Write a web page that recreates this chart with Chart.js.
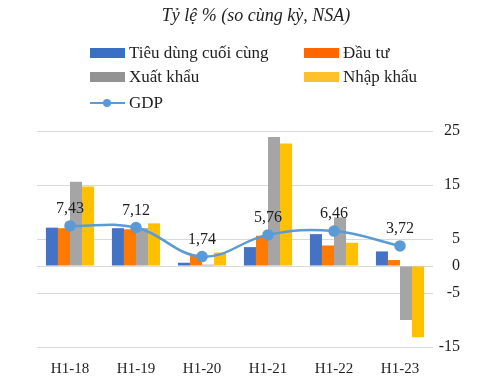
<!DOCTYPE html>
<html>
<head>
<meta charset="utf-8">
<script src="https://cdn.jsdelivr.net/npm/chart.js@4/dist/chart.umd.min.js"></script>
<style>
  body { margin: 0; background: #fff; }
  #wrap { position: relative; width: 479px; height: 381px; overflow: hidden; font-family: "Liberation Serif", serif; color: #1e1e1e; }
  #chart { position: absolute; left: 0; top: 0; }
  #title { position: absolute; left: 0; width: 512px; top: 5px; text-align: center; font-style: italic; font-size: 18px; }
  .lg { position: absolute; font-size: 17px; line-height: 20px; white-space: nowrap; }
  .sw { display: inline-block; width: 35px; height: 10px; vertical-align: middle; margin-right: 4px; position: relative; top: -1px; }
  .ln { display: inline-block; width: 35px; height: 10px; vertical-align: middle; margin-right: 4px; position: relative; top: -1px; }
  .ln::before { content: ""; position: absolute; left: 0; right: 0; top: 4px; height: 2px; background: #5b9bd5; }
  .ln::after { content: ""; position: absolute; left: 13px; top: 1px; width: 8px; height: 8px; border-radius: 50%; background: #5b9bd5; }
</style>
</head>
<body>
<div id="wrap">
  <canvas id="chart" width="479" height="381"></canvas>
  <div id="title">Tỷ lệ % (so cùng kỳ, NSA)</div>
  <div class="lg" style="left:90px; top:43px;"><span class="sw" style="background:#3a6fc4"></span>Tiêu dùng cuối cùng</div>
  <div class="lg" style="left:304px; top:43px;"><span class="sw" style="background:#ff6600"></span>Đầu tư</div>
  <div class="lg" style="left:90px; top:67px;"><span class="sw" style="background:#939393"></span>Xuất khẩu</div>
  <div class="lg" style="left:304px; top:67px;"><span class="sw" style="background:#ffc12b"></span>Nhập khẩu</div>
  <div class="lg" style="left:90px; top:93px;"><span class="ln"></span>GDP</div>
</div>
<script>
const categories = ['H1-18', 'H1-19', 'H1-20', 'H1-21', 'H1-22', 'H1-23'];
const consumption = [7.1, 7.0, 0.6, 3.5, 5.9, 2.7];
const investment = [7.0, 6.8, 1.85, 5.6, 3.8, 1.1];
const exports = [15.6, 7.0, 0.25, 23.9, 9.0, -10.0];
const imports = [14.7, 7.9, 2.5, 22.7, 4.3, -13.2];
const gdp = [7.43, 7.12, 1.74, 5.76, 6.46, 3.72];
const yTicks = [-15, -5, 0, 5, 15, 25];

const fmt = (v) => v.toFixed(2).replace('.', ',');

// value labels above the GDP points
const gdpLabels = {
  id: 'gdpLabels',
  afterDatasetsDraw(chart) {
    const meta = chart.getDatasetMeta(4);
    const ctx = chart.ctx;
    ctx.save();
    ctx.font = '16px "Liberation Serif", serif';
    ctx.fillStyle = '#1e1e1e';
    ctx.textAlign = 'center';
    ctx.textBaseline = 'middle';
    meta.data.forEach((pt, i) => {
      ctx.fillText(fmt(gdp[i]), pt.x, pt.y - 17);
    });
    ctx.restore();
  },
};

const bar = (label, data, color) => ({
  type: 'bar',
  label,
  data,
  backgroundColor: color,
  order: 1,
  barPercentage: 1,
  categoryPercentage: 0.73,
});

new Chart(document.getElementById('chart'), {
  data: {
    labels: categories,
    datasets: [
      bar('Tiêu dùng cuối cùng', consumption, '#4472c4'),
      bar('Đầu tư', investment, '#ff7a00'),
      bar('Xuất khẩu', exports, '#a5a5a5'),
      bar('Nhập khẩu', imports, '#ffc000'),
      {
        type: 'line',
        label: 'GDP',
        data: gdp,
        borderColor: '#5b9bd5',
        backgroundColor: '#5b9bd5',
        borderWidth: 2.5,
        pointRadius: 4.5,
        tension: 0.4,
        order: 0,
      },
    ],
  },
  options: {
    responsive: false,
    animation: false,
    layout: { padding: { left: 37, top: 131, right: 19, bottom: 0 } },
    plugins: {
      legend: { display: false },
      tooltip: { enabled: false },
    },
    scales: {
      x: {
        grid: { display: false },
        border: { display: false },
        ticks: { color: '#1e1e1e', padding: 5, font: { family: '"Liberation Serif", serif', size: 15 } },
        afterFit(scale) { scale.height = 34; },
      },
      y: {
        position: 'right',
        min: -15,
        max: 25,
        afterBuildTicks(scale) { scale.ticks = yTicks.map((v) => ({ value: v })); },
        afterFit(scale) { scale.width = 27; },
        grid: { color: '#d9d9d9', drawTicks: false },
        border: { display: false },
        ticks: {
          color: '#1e1e1e',
          padding: 9,
          crossAlign: 'far',
          font: { family: '"Liberation Serif", serif', size: 16 },
        },
      },
    },
  },
  plugins: [gdpLabels],
});
</script>
</body>
</html>
